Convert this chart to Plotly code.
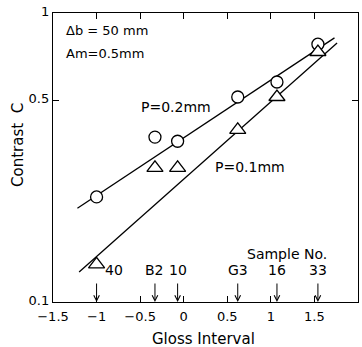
import plotly.graph_objects as go

# ---- data ----
sample_labels = ["40", "B2", "10", "G3", "16", "33"]
sample_x = [-1.0, -0.33, -0.07, 0.62, 1.07, 1.54]
contrast_p02 = [0.231, 0.372, 0.36, 0.512, 0.577, 0.78]   # P=0.2mm (circles)
contrast_p01 = [0.135, 0.291, 0.291, 0.394, 0.512, 0.733]  # P=0.1mm (triangles)
fit_p02_x = [-1.22, 1.73]
fit_p02_c = [0.211, 0.82]
fit_p01_x = [-1.2, 1.76]
fit_p01_c = [0.127, 0.787]
y_ticks = [0.1, 0.5, 1]
y_ticktext = ["0.1", "0.5", "1"]

FONT = "DejaVu Sans"
W, H = 362, 347
L, R, T, B = 53, 4, 13, 45
pw, ph = W - L - R, H - T - B


def px(xpix):
    return (xpix - L) / pw


def py(ypix):
    return (H - B - ypix) / ph


fig = go.Figure()
fig.add_trace(go.Scatter(x=fit_p02_x, y=fit_p02_c, mode="lines",
                         line=dict(color="black", width=1.3), showlegend=False))
fig.add_trace(go.Scatter(x=fit_p01_x, y=fit_p01_c, mode="lines",
                         line=dict(color="black", width=1.3), showlegend=False))
fig.add_trace(go.Scatter(x=sample_x, y=contrast_p02, mode="markers",
                         marker=dict(symbol="circle", size=12, color="white",
                                     line=dict(color="black", width=1.3)),
                         showlegend=False))
fig.add_trace(go.Scatter(x=sample_x, y=contrast_p01, mode="markers",
                         marker=dict(symbol="triangle-up", size=14, color="white",
                                     line=dict(color="black", width=1.3)),
                         showlegend=False))

ann = []
txt = dict(family=FONT, size=14, color="black")
ann.append(dict(text="Δb = 50 mm", x=px(64), y=py(31), xref="paper", yref="paper",
                xanchor="left", yanchor="middle", showarrow=False,
                font=dict(family=FONT, size=13, color="black")))
ann.append(dict(text="Am=0.5mm", x=px(64), y=py(53), xref="paper", yref="paper",
                xanchor="left", yanchor="middle", showarrow=False,
                font=dict(family=FONT, size=13, color="black")))
ann.append(dict(text="P=0.2mm", x=px(139), y=py(107), xref="paper", yref="paper",
                xanchor="left", yanchor="middle", showarrow=False, font=txt))
ann.append(dict(text="P=0.1mm", x=px(213), y=py(167), xref="paper", yref="paper",
                xanchor="left", yanchor="middle", showarrow=False, font=txt))
ann.append(dict(text="Sample No.", x=px(287), y=py(254), xref="paper", yref="paper",
                xanchor="center", yanchor="middle", showarrow=False, font=txt))

for i, (lab, sx) in enumerate(zip(sample_labels, sample_x)):
    shift = 17 if i == 0 else 0
    ann.append(dict(text=lab, x=sx, y=py(270), xref="x", yref="paper",
                    xanchor="center", yanchor="middle", xshift=shift,
                    showarrow=False, font=txt))
    ann.append(dict(text="", x=sx, y=-1, xref="x", yref="y", showarrow=True,
                    ax=0, ay=-20, arrowhead=5, arrowsize=1.1, arrowwidth=1,
                    arrowcolor="black"))

ann.append(dict(text="Gloss Interval", x=px(203), y=py(339), xref="paper", yref="paper",
                xanchor="center", yanchor="middle", showarrow=False,
                font=dict(family=FONT, size=15, color="black")))
ann.append(dict(text="Contrast  C", x=px(18), y=py(145), xref="paper", yref="paper",
                xanchor="center", yanchor="middle", textangle=-90, showarrow=False,
                font=dict(family=FONT, size=15, color="black")))

fig.update_layout(
    width=W, height=H,
    margin=dict(l=L, r=R, t=T, b=B),
    paper_bgcolor="white", plot_bgcolor="white",
    annotations=ann,
    xaxis=dict(range=[-1.5, 2], dtick=0.5, tick0=-1.5, ticks="inside", ticklen=6,
               tickcolor="black", showline=True, linecolor="black", linewidth=1.3,
               mirror="ticks", showgrid=False, zeroline=False, ticklabelstandoff=2,
               tickfont=dict(family=FONT, size=13, color="black")),
    yaxis=dict(type="log", range=[-1, 0], tickvals=y_ticks, ticktext=y_ticktext,
               ticks="inside", ticklen=6, tickcolor="black", showline=True,
               linecolor="black", linewidth=1.3, mirror="ticks", showgrid=False,
               zeroline=False, ticklabelshift=-2,
               tickfont=dict(family=FONT, size=13, color="black")),
)

fig.write_html("out.html")
